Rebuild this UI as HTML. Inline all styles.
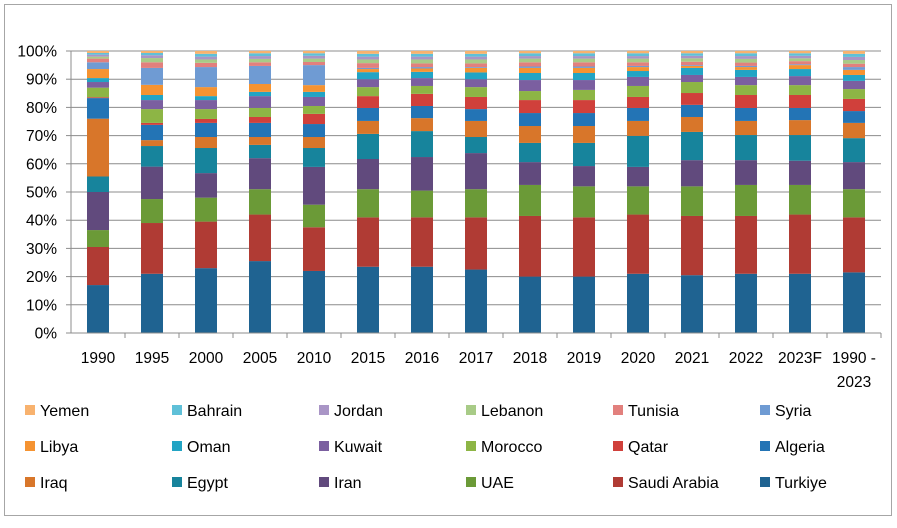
<!DOCTYPE html>
<html><head><meta charset="utf-8"><style>
body{margin:0;background:#fff;width:897px;height:523px;overflow:hidden;font-family:"Liberation Sans",sans-serif}
svg text{font-family:"Liberation Sans",sans-serif;fill:#000}
</style></head><body>
<svg id="chart" width="897" height="523" xmlns="http://www.w3.org/2000/svg">
<rect x="4.5" y="4.5" width="887" height="511" fill="#fff" stroke="#a6a6a6" stroke-width="1"/>
<g id="grid"></g><g id="bars"></g><g id="axes"></g><g id="legend"></g>
</svg>
<script>
const categories=["1990","1995","2000","2005","2010","2015","2016","2017","2018","2019","2020","2021","2022","2023F","1990 -|2023"];
const seriesNames=["Turkiye","Saudi Arabia","UAE","Iran","Egypt","Iraq","Algeria","Qatar","Morocco","Kuwait","Oman","Libya","Syria","Tunisia","Lebanon","Jordan","Bahrain","Yemen"];
const seriesColors=["#1f6391","#b03b34","#6b9a37","#614a7d","#17849c","#d8762a","#2374b5","#d0403b","#8db545","#7b5fa0","#22a4c4","#f59331","#6f9bd3","#e2807d","#a8cb87","#a995c6","#5fc0d8","#f8b26e"];
const turkiye=[17,21,23,25.5,22,23.5,23.5,22.5,20,20,21,20.5,21,21,21.5];
const saudiArabia=[13.5,18,16.5,16.5,15.5,17.5,17.5,18.5,21.5,21,21,21,20.5,21,19.5];
const uae=[6,8.5,8.5,9,8,10,9.5,10,11,11,10,10.5,11,10.5,10];
const iran=[13.5,11.5,8.7,11,13.4,10.7,11.9,12.8,8.1,7.2,6.9,9.3,8.8,8.6,9.6];
const egypt=[5.5,7.3,8.9,4.7,6.7,8.9,9.2,5.7,6.8,8.2,11,10,8.9,9.1,8.5];
const iraq=[20.5,2.1,3.9,2.8,3.9,4.6,4.6,5.7,6,6,5.3,5.3,5,5.3,5.4];
const algeria=[7.3,5.4,5,5,4.6,4.6,4.3,4.2,4.6,4.6,4.6,4.3,4.6,4.3,4.2];
const qatar=[0.3,0.7,1.4,2.1,3.6,4.2,4.3,4.3,4.6,4.6,3.9,4.2,4.6,4.6,4.3];
const morocco=[3.4,4.9,3.5,3.2,2.8,3.2,2.8,3.5,3.2,3.6,3.9,3.9,3.5,3.5,3.5];
const kuwait=[2,3.2,3.2,4.2,3.2,2.8,2.8,2.8,3.9,3.5,3.2,2.5,2.9,3.2,2.9];
const oman=[1.4,1.8,1.4,1.5,1.8,2.5,2.2,2.4,2.5,2.5,2.1,2.5,2.5,2.5,2.1];
const libya=[3.2,3.6,3.2,2.8,2.4,1.1,1.2,1.6,1.8,1.8,1.4,0.7,1,1.4,1.8];
const syria=[2.4,6,7.1,6.4,7.1,0.4,0.5,0.3,0.5,0.5,0.4,0.3,0.4,0.3,1];
const tunisia=[1.3,2,1.5,1.3,1.1,1.7,1.3,1.3,1.5,1.5,1.3,1.2,1.2,1.1,1.2];
const lebanon=[0.7,1.5,1.2,1.2,1.2,1.3,1.4,1.4,1.3,1.3,1.3,1.2,1.3,1,1.3];
const jordan=[0.7,1,1,1,1,1,1,1,0.9,0.9,0.9,0.9,1,0.9,1.1];
const bahrain=[0.6,0.8,1,1,0.9,1,1,1,1,1,1,0.9,1,0.9,1.1];
const yemen=[0.7,0.7,1,0.8,0.8,1,1,1,0.8,0.8,0.8,0.8,0.8,0.8,1];
const seriesValues=[turkiye,saudiArabia,uae,iran,egypt,iraq,algeria,qatar,morocco,kuwait,oman,libya,syria,tunisia,lebanon,jordan,bahrain,yemen];
const yTicks=[0,10,20,30,40,50,60,70,80,90,100];
const legendOrder=["Yemen","Bahrain","Jordan","Lebanon","Tunisia","Syria","Libya","Oman","Kuwait","Morocco","Qatar","Algeria","Iraq","Egypt","Iran","UAE","Saudi Arabia","Turkiye"];

const NS="http://www.w3.org/2000/svg";
const X0=71,X1=881,Y0=333,Y1=51;
const band=(X1-X0)/categories.length;
const yScale=v=>Y0-(Y0-Y1)*v/100;
const xCenter=i=>X0+band*(i+0.5);
function mk(tag,attrs,parent){const e=document.createElementNS(NS,tag);for(const k in attrs)e.setAttribute(k,attrs[k]);parent.appendChild(e);return e;}
const grid=document.getElementById('grid'),bars=document.getElementById('bars'),axes=document.getElementById('axes'),legend=document.getElementById('legend');

yTicks.forEach(t=>{
  const y=yScale(t);
  if(t>0){const g=mk('line',{x1:X0,x2:X1,y1:y,y2:y,stroke:'#8c8c8c','stroke-width':1},grid);
  
  }
  const tk=mk('line',{x1:X0-5,x2:X0,y1:y,y2:y,stroke:'#8c8c8c'},axes);
  
  
  const lb=mk('text',{x:57,y:y+5.5,'text-anchor':'end','font-size':'15.5'},axes);
  lb.textContent=t+'%';
  
  
});
const ya=mk('line',{x1:X0,x2:X0,y1:Y1,y2:Y0,stroke:'#8c8c8c'},axes);


const xa=mk('line',{x1:X0,x2:X1,y1:Y0,y2:Y0,stroke:'#8c8c8c'},axes);



categories.forEach((c,i)=>{
  const xt=X0+band*(i+1);
  const tk=mk('line',{x1:xt,x2:xt,y1:Y0,y2:Y0+5,stroke:'#8c8c8c'},axes);
  
  
  const parts=c.split('|');
  parts.forEach((p,j)=>{
    const t=mk('text',{x:xCenter(i),y:363+j*24,'text-anchor':'middle','font-size':'15.5'},axes);
    t.textContent=p;
    
    
  });
  let total=0;seriesValues.forEach(s=>total+=s[i]);
  let cum=0;
  seriesValues.forEach((s,k)=>{
    const v=s[i]/total*100;
    const yTop=yScale(cum+v),yBot=yScale(cum);
    const r=mk('rect',{x:xCenter(i)-11,y:yTop,width:22,height:Math.max(0,yBot-yTop),fill:seriesColors[k]},bars);
    
    
    cum+=v;
  });
});

legendOrder.forEach((n,i)=>{
  const col=i%6,row=Math.floor(i/6);
  const k=seriesNames.indexOf(n);
  const x=25+col*147,y=410+row*36;
  const g=mk('g',{},legend);
  
  
  mk('rect',{x:x,y:y-5,width:10,height:10,fill:seriesColors[k]},g);
  const t=mk('text',{x:x+15,y:y+6,'font-size':'16'},g);
  t.textContent=n;
});
</script>
</body></html>
